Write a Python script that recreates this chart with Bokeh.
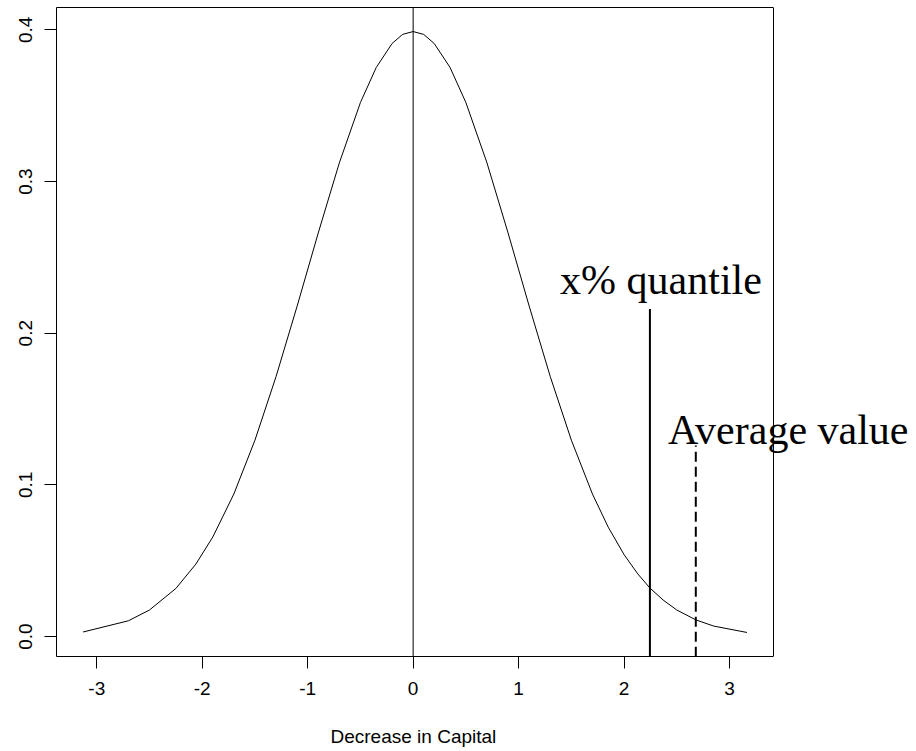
from bokeh.plotting import figure
from bokeh.models import Range1d, FixedTicker, PrintfTickFormatter, Span, Label, LinearAxis, Title
from bokeh.embed import file_html
from bokeh.resources import INLINE

# Density curve points
curve_x = [-3.13, -2.70, -2.50, -2.25, -2.06, -1.90, -1.70, -1.50, -1.30, -1.10,
           -0.90, -0.70, -0.50, -0.35, -0.20, -0.10, 0.00, 0.10, 0.20, 0.35,
           0.50, 0.70, 0.90, 1.10, 1.30, 1.50, 1.70, 1.85, 2.00, 2.13,
           2.245, 2.37, 2.50, 2.68, 2.85, 3.165]
curve_y = [0.0030, 0.0104, 0.0175, 0.0317, 0.0478, 0.0656, 0.0940, 0.1295, 0.1714, 0.2179,
           0.2661, 0.3123, 0.3521, 0.3752, 0.3910, 0.3970, 0.3989, 0.3970, 0.3910, 0.3752,
           0.3521, 0.3123, 0.2661, 0.2179, 0.1714, 0.1295, 0.0940, 0.0721, 0.0540, 0.0413,
           0.0320, 0.0241, 0.0175, 0.0110, 0.0069, 0.0027]

center_x = [0.0]
quantile_x = [2.245]
quantile_top = [0.216]
average_x = [2.68]
average_top = [0.126]

x_ticks = [-3, -2, -1, 0, 1, 2, 3]
y_ticks = [0.0, 0.1, 0.2, 0.3, 0.4]
x_title = "Decrease in Capital"

# R-style 4% range extension (the plot box)
xmin, xmax = min(curve_x), max(curve_x)
ymin, ymax = min(curve_y), max(curve_y)
dx = 0.04 * (xmax - xmin)
dy = 0.04 * (ymax - ymin)
box_x0, box_x1 = xmin - dx, xmax + dx
box_y0, box_y1 = ymin - dy, ymax + dy

# frame extends past the box on the right so the labels are not clipped
BOX_PX = 717
EXTRA_PX = 143
x_end = box_x1 + (box_x1 - box_x0) * EXTRA_PX / BOX_PX

p = figure(width=916, height=751, output_backend="svg", toolbar_location=None,
           x_range=Range1d(box_x0, x_end), y_range=Range1d(box_y0, box_y1),
           min_border_left=56, min_border_right=0, min_border_top=7, min_border_bottom=95)

p.background_fill_color = "white"
p.border_fill_color = "white"
p.outline_line_color = None
p.xgrid.visible = False
p.ygrid.visible = False

for ax in (p.xaxis, p.yaxis):
    ax.axis_line_color = "black"
    ax.axis_line_width = 1
    ax.major_tick_out = 12
    ax.major_tick_in = 0
    ax.minor_tick_line_color = None
    ax.major_tick_line_color = "black"
    ax.major_label_text_font = "Liberation Sans"
    ax.major_label_text_font_size = "19px"
    ax.major_label_text_color = "black"

p.xaxis.bounds = (box_x0, box_x1)
p.xaxis.ticker = FixedTicker(ticks=x_ticks)
p.yaxis.ticker = FixedTicker(ticks=y_ticks)
p.xaxis.formatter = PrintfTickFormatter(format="%d")
p.yaxis.formatter = PrintfTickFormatter(format="%.1f")
p.yaxis.major_label_orientation = "vertical"
p.xaxis.major_label_standoff = 13
p.yaxis.major_label_standoff = 12

# spacer between tick labels and the x-axis title
p.add_layout(Title(text=" ", text_font_size="1px", standoff=23), "below")
# x-axis title, centred under the box (not the wider frame)
p.add_layout(Title(text=x_title, align="left", offset=274,
                   text_font="Liberation Sans", text_font_size="19px",
                   text_font_style="normal", text_color="black", standoff=0), "below")

# top edge of the box
top_axis = LinearAxis(bounds=(box_x0, box_x1), ticker=FixedTicker(ticks=[]),
                      major_tick_out=0, major_tick_in=0, minor_tick_out=0, minor_tick_in=0,
                      major_label_standoff=0, axis_line_color="black", axis_line_width=1)
p.add_layout(top_axis, "above")
# right edge of the box
p.add_layout(Span(location=box_x1, dimension="height", line_color="black", line_width=1))

p.line(curve_x, curve_y, line_color="black", line_width=1)

for cx in center_x:
    p.add_layout(Span(location=cx, dimension="height", line_color="black", line_width=1))

bottom = box_y0 - 0.01
p.segment(x0=quantile_x, y0=[bottom] * len(quantile_x), x1=quantile_x, y1=quantile_top,
          line_color="black", line_width=2)
p.segment(x0=average_x, y0=[bottom] * len(average_x), x1=average_x, y1=average_top,
          line_color="black", line_width=2, line_dash="10 5")

p.add_layout(Label(x=2.35, y=0.2354, text="x% quantile", text_align="center",
                   text_baseline="alphabetic", text_font="Liberation Serif",
                   text_font_size="42px", text_color="black"))
p.add_layout(Label(x=3.556, y=0.1359, text="Average value", text_align="center",
                   text_baseline="alphabetic", text_font="Liberation Serif",
                   text_font_size="42px", text_color="black"))

open("out.html", "w").write(file_html(p, INLINE))
